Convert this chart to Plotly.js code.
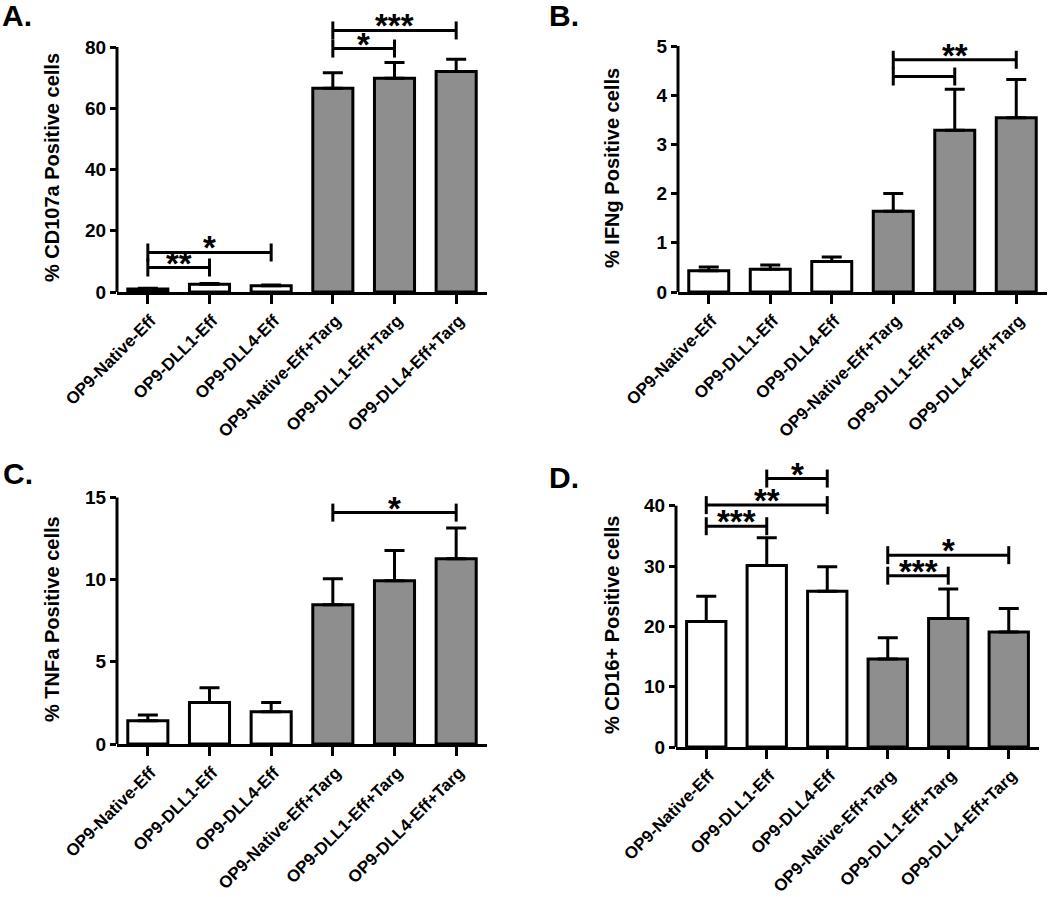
<!DOCTYPE html>
<html><head><meta charset="utf-8">
<script src="https://cdn.plot.ly/plotly-3.0.1.min.js"></script>
<style>html,body{margin:0;padding:0;background:#fff}#chart{width:1050px;height:897px}</style>
</head><body><div id="chart"></div>
<script>
const categories = ['OP9-Native-Eff','OP9-DLL1-Eff','OP9-DLL4-Eff','OP9-Native-Eff+Targ','OP9-DLL1-Eff+Targ','OP9-DLL4-Eff+Targ'];
const withTarget = [false,false,false,true,true,true];

const cd107aMean = [1.0, 2.5, 2.0, 66.5, 69.8, 72.0];
const cd107aErr  = [0.2, 0.3, 0.3, 5.1, 5.1, 4.0];
const ifngMean = [0.43, 0.46, 0.62, 1.64, 3.29, 3.54];
const ifngErr  = [0.08, 0.09, 0.09, 0.36, 0.83, 0.78];
const tnfaMean = [1.41, 2.52, 1.96, 8.48, 9.94, 11.27];
const tnfaErr  = [0.35, 0.91, 0.56, 1.58, 1.84, 1.88];
const cd16Mean = [20.8, 30.1, 25.8, 14.6, 21.3, 19.05];
const cd16Err  = [4.2, 4.6, 4.1, 3.5, 4.9, 3.9];

// significance brackets: [fromIndex, toIndex, yValue, label]
const cd107aSig = [[0,1,8.0,'**'],[0,2,12.9,'*'],[3,4,79.5,'*'],[3,5,85.4,'***']];
const ifngSig = [[3,4,4.38,''],[3,5,4.72,'**']];
const tnfaSig = [[3,5,14.08,'*']];
const cd16Sig = [[0,1,36.6,'***'],[0,2,40.1,'**'],[1,2,44.5,'*'],[3,4,28.4,'***'],[3,5,31.8,'*']];

const yTitles = ['% CD107a Positive cells','% IFNg Positive cells','% TNFa Positive cells','% CD16+ Positive cells'];
const panelLabels = ['A.','B.','C.','D.'];
const yTickSteps = [20,1,5,10];
const yAxisMax = [80,5,15,40];

const means = [cd107aMean, ifngMean, tnfaMean, cd16Mean];
const errs = [cd107aErr, ifngErr, tnfaErr, cd16Err];
const sigs = [cd107aSig, ifngSig, tnfaSig, cd16Sig];

// layout geometry in pixels
const W = 1050, H = 897;
const geom = [
  {left:117, right:487, zero:292, tickPx:47,   plotTop:8,   label:[0,16],   title:[52,168]},
  {left:678, right:1047,zero:292, tickPx:46,   plotTop:30,  label:[547,16], title:[612,168]},
  {left:117, right:487, zero:744, tickPx:497.5,plotTop:478, label:[1,473],  title:[52,619]},
  {left:676, right:1039,zero:747, tickPx:505.7,plotTop:458, label:[547,477],title:[612,625]}
];

const FONT = 'Liberation Sans, Arial, Helvetica, sans-serif';
const data = [];
const layout = {
  width: W, height: H,
  margin: {l:0, r:0, t:0, b:0},
  showlegend: false,
  paper_bgcolor: '#ffffff', plot_bgcolor: '#ffffff',
  font: {family: FONT, color: '#000', weight: 'bold'},
  shapes: [], annotations: []
};

for (let p = 0; p < 4; p++) {
  const g = geom[p];
  const sx = p === 0 ? '' : String(p + 1);
  const xa = 'x' + sx, ya = 'y' + sx;
  const rangeTop = yAxisMax[p] * (g.zero - g.plotTop) / (g.zero - g.tickPx);

  data.push({
    type: 'bar', x: categories, y: means[p], xaxis: xa, yaxis: ya,
    width: 0.65,
    marker: {color: withTarget.map(t => t ? '#8e8e8e' : '#ffffff'), line: {color: '#000', width: 3}},
    error_y: {type: 'data', symmetric: false, array: errs[p], arrayminus: errs[p].map(() => 0),
              color: '#000', thickness: 3, width: 10},
    hoverinfo: 'x+y'
  });

  layout['xaxis' + sx] = {
    type: 'category', domain: [g.left / W, g.right / W], anchor: ya,
    range: [-0.5, 5.5], showline: true, linewidth: 3, linecolor: '#000',
    ticks: 'outside', ticklen: 9, tickwidth: 3, tickcolor: '#000',
    tickangle: -45, tickfont: {size: 17, family: FONT, weight: 'bold'},
    ticklabelshift: 3,
    showgrid: false, zeroline: false, fixedrange: true
  };
  layout['yaxis' + sx] = {
    domain: [(H - g.zero) / H, (H - g.plotTop) / H], anchor: xa,
    range: [0, rangeTop], tick0: 0, dtick: yTickSteps[p],
    showline: false, ticks: 'outside', ticklen: 6, tickwidth: 3, tickcolor: '#000',
    tickfont: {size: 19, family: FONT, weight: 'bold'},
    showgrid: false, zeroline: false, fixedrange: true
  };

  // y axis line, stopping at the top tick
  layout.shapes.push({type: 'line', xref: xa + ' domain', yref: ya, x0: 0, x1: 0, y0: 0, y1: yAxisMax[p],
                      line: {color: '#000', width: 3}});

  sigs[p].forEach(s => {
    const [i, j, yv, lab] = s;
    layout.shapes.push({type: 'line', xref: xa, yref: ya, x0: i, x1: j, y0: yv, y1: yv, line: {color: '#000', width: 3}});
    [i, j].forEach(k => layout.shapes.push({type: 'line', xref: xa, yref: ya, x0: k, x1: k,
      ysizemode: 'pixel', yanchor: yv, y0: -9, y1: 9, line: {color: '#000', width: 3}}));
    if (lab) layout.annotations.push({xref: xa, yref: ya, x: (i + j) / 2, y: yv, text: lab, showarrow: false,
      xanchor: 'center', yanchor: 'bottom', yshift: -16, font: {size: 33, family: FONT, weight: 'bold'}});
  });

  // y axis title (centred on the 0..max part of the axis)
  layout.annotations.push({xref: 'paper', yref: 'paper', x: g.title[0] / W, y: 1 - g.title[1] / H,
    xanchor: 'center', yanchor: 'middle', textangle: -90, text: yTitles[p], showarrow: false,
    font: {size: 20, family: FONT, weight: 'bold'}});

  layout.annotations.push({xref: 'paper', yref: 'paper', x: g.label[0] / W, y: 1 - g.label[1] / H,
    xanchor: 'left', yanchor: 'middle', text: panelLabels[p], showarrow: false,
    font: {size: 30, family: FONT, weight: 'bold'}});
}

Plotly.newPlot('chart', data, layout, {displayModeBar: false, staticPlot: true});
</script>
</body></html>
